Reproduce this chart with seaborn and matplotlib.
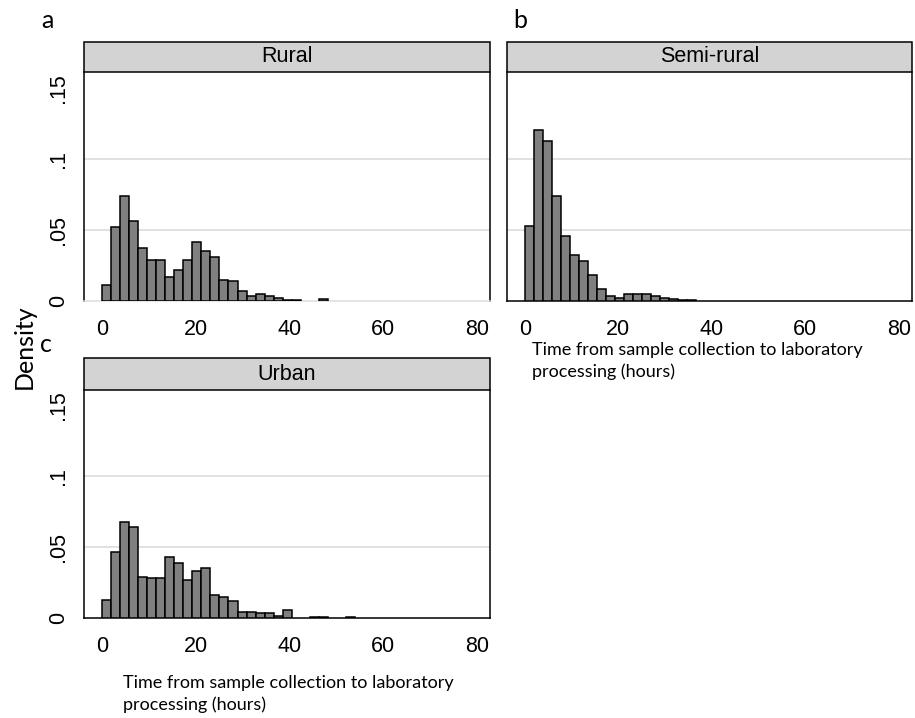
"""Histograms of time from sample collection to lab processing, by setting."""

import matplotlib
matplotlib.use("Agg")
import matplotlib.pyplot as plt
import pandas as pd
import seaborn as sns
from matplotlib.patches import Rectangle

# --- data (density per 1.93 h bin) ------------------------------------------
bin_width = 1.93
rural = [0.0113, 0.0521, 0.0740, 0.0564, 0.0369, 0.0287, 0.0287, 0.0169,
         0.0216, 0.0287, 0.0411, 0.0348, 0.0305, 0.0146, 0.0136, 0.0065,
         0.0034, 0.0050, 0.0036, 0.0020, 0.0007, 0.0007, 0.0, 0.0, 0.0011]
semi_rural = [0.0529, 0.1203, 0.1121, 0.0740, 0.0454, 0.0322, 0.0277, 0.0183,
              0.0079, 0.0032, 0.0018, 0.0045, 0.0045, 0.0045, 0.0035, 0.0016,
              0.0010, 0.0005, 0.0005]
urban = [0.0124, 0.0463, 0.0677, 0.0638, 0.0287, 0.0280, 0.0280, 0.0427,
         0.0388, 0.0264, 0.0327, 0.0350, 0.0160, 0.0148, 0.0120, 0.0040,
         0.0040, 0.0030, 0.0030, 0.0014, 0.0054, 0.0, 0.0, 0.0005, 0.0005,
         0.0, 0.0, 0.0005]
panel_names = ["Rural", "Semi-rural", "Urban"]
panel_letters = ["a", "b", "c"]
x_ticks = [0, 20, 40, 60, 80]
y_ticks = [0, 0.05, 0.1, 0.15]
y_tick_labels = ["0", ".05", ".1", ".15"]
x_label = "Time from sample collection to laboratory\nprocessing (hours)"

W, H = 915, 718
BAR = "#808080"
STRIP = "#d3d3d3"
GRID = "#dcdcdc"
LABEL_FONT = ["Lato", "DejaVu Sans"]
TICK_SIZE = 15.5


def px_box(left, top, right, bottom):
    return [left / W, 1 - bottom / H, (right - left) / W, (bottom - top) / H]


def draw_panel(fig, box, strip_px, values, name, show_y, x_axis):
    ax = fig.add_axes(px_box(*box))
    edges = [i * bin_width for i in range(len(values) + 1)]
    df = pd.DataFrame({
        "hours": [e + bin_width / 2 for e in edges[:-1]],
        "density": values,
    })
    sns.histplot(data=df, x="hours", weights="density", bins=edges,
                 stat="count", color=BAR, edgecolor="black", linewidth=1.1,
                 alpha=1, ax=ax, zorder=3)
    # empty bins leave a gap, as in the original
    for p in ax.patches:
        if p.get_height() <= 0:
            p.set_visible(False)

    ax.set_xlim(-3.8, 82.8)
    ax.set_ylim(0, 0.161)
    ax.set_xticks(x_ticks)
    ax.set_yticks(y_ticks)
    ax.set_xlabel("")
    ax.set_ylabel("")

    ax.grid(axis="y", color=GRID, linewidth=1.2)
    ax.set_axisbelow(True)
    grid = ax.get_ygridlines()
    grid[0].set_visible(False)
    grid[-1].set_visible(False)

    for side in ["left", "right", "bottom"]:
        ax.spines[side].set_color("black")
        ax.spines[side].set_linewidth(1.1)
    ax.spines["top"].set_visible(False)

    if show_y:
        ax.set_yticklabels(y_tick_labels, rotation=90, va="center",
                           fontsize=TICK_SIZE, family="Liberation Sans",
                           color="black")
        ax.tick_params(axis="y", length=6, width=1.1, pad=5, color="black")
    else:
        ax.tick_params(axis="y", left=False, labelleft=False)

    ax.set_xticklabels([str(t) for t in x_ticks], fontsize=TICK_SIZE,
                       family="Liberation Sans", color="black")
    if x_axis:
        ax.tick_params(axis="x", length=7, width=1.1, pad=6, color="#555555")
    else:
        ax.spines["bottom"].set_color(GRID)
        ax.tick_params(axis="x", length=0, pad=13)

    # strip title box
    ax_h = box[3] - box[1]
    strip_h = strip_px / ax_h
    ax.add_patch(Rectangle((0, 1), 1, strip_h, transform=ax.transAxes,
                           facecolor=STRIP, edgecolor="black", linewidth=1.1,
                           clip_on=False, zorder=5))
    ax.text(0.5, 1 + strip_h / 2, name, transform=ax.transAxes,
            ha="center", va="center", fontsize=TICK_SIZE,
            family="Liberation Sans", color="black", zorder=6)
    return ax


def main():
    sns.set_style("white")
    plt.rcParams["text.color"] = "black"
    fig = plt.figure(figsize=(W / 100, H / 100), dpi=100)

    draw_panel(fig, (84, 72, 490, 300.7), 30, rural, panel_names[0],
               show_y=True, x_axis=False)
    draw_panel(fig, (507, 72, 912, 300.7), 30, semi_rural, panel_names[1],
               show_y=False, x_axis=True)
    draw_panel(fig, (84, 390, 490, 617.7), 32, urban, panel_names[2],
               show_y=True, x_axis=True)

    fig.text(47 / W, 1 - 20 / H, panel_letters[0], fontsize=18,
             family=LABEL_FONT, ha="center", va="center")
    fig.text(520 / W, 1 - 20 / H, panel_letters[1], fontsize=18,
             family=LABEL_FONT, ha="center", va="center")
    fig.text(46 / W, 1 - 344 / H, panel_letters[2], fontsize=18,
             family=LABEL_FONT, ha="center", va="center")
    fig.text(24 / W, 1 - 347 / H, "Density", rotation=90, fontsize=18,
             family=LABEL_FONT, ha="center", va="center")

    fig.text(532 / W, 1 - 361 / H, x_label, fontsize=13, family=LABEL_FONT,
             ha="left", va="center", linespacing=1.45)
    fig.text(123 / W, 1 - 694 / H, x_label, fontsize=13, family=LABEL_FONT,
             ha="left", va="center", linespacing=1.45)

    fig.savefig("out.png", dpi=100, facecolor="white")
    plt.close(fig)
    return 0


if __name__ == "__main__":
    raise SystemExit(main())
